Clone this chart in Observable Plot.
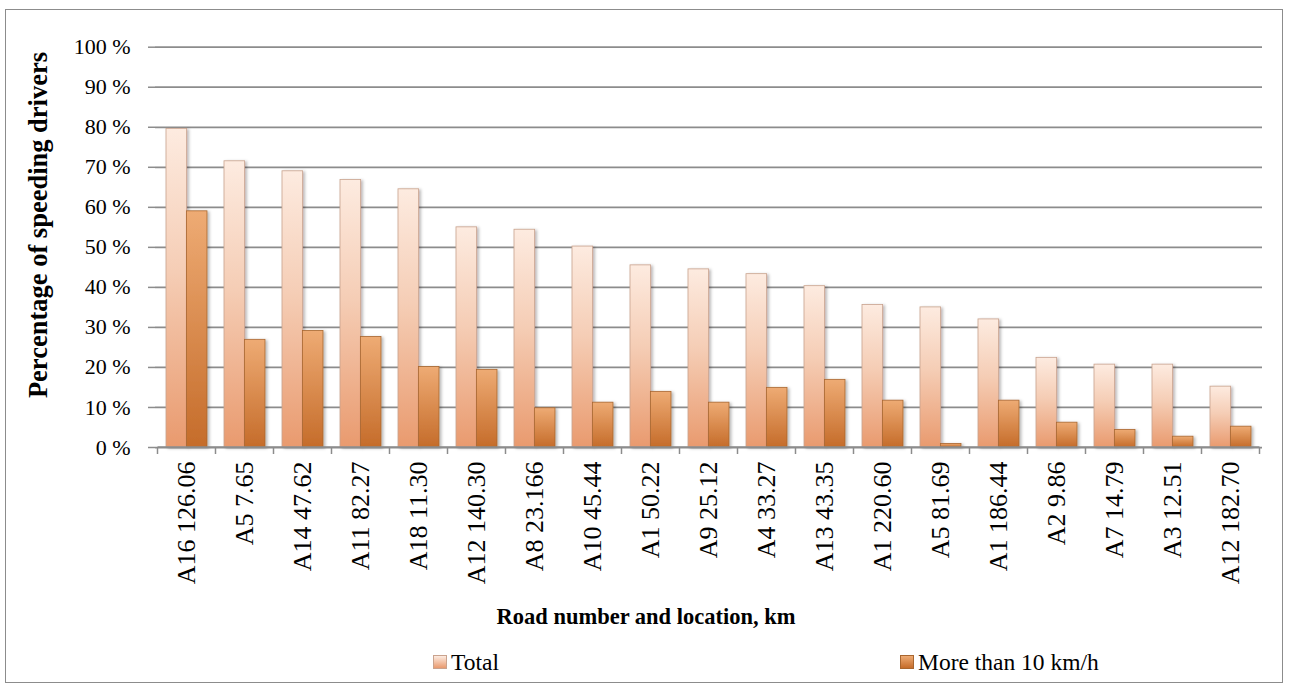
<!DOCTYPE html>
<html><head><meta charset="utf-8">
<script src="https://cdn.jsdelivr.net/npm/d3@7"></script>
<script src="https://cdn.jsdelivr.net/npm/@observablehq/plot@0.6"></script>
<style>
body{margin:0;background:#fff;font-family:"Liberation Serif","Times New Roman",serif;}
#frame{position:absolute;left:5px;top:9px;width:1278px;height:674px;border:1px solid #8c8c8c;box-sizing:border-box;}
#chart{position:absolute;left:0;top:0;}
.t{position:absolute;color:#000;white-space:nowrap;}
</style></head>
<body>
<div id="frame"></div>
<div id="chart"></div>
<div class="t" id="ytitle" style="left:38px;top:225px;transform:translate(-50%,-50%) rotate(-90deg);font-weight:bold;font-size:26.5px;">Percentage of speeding drivers</div>
<div class="t" style="left:646px;top:617px;transform:translate(-50%,-50%);font-weight:bold;font-size:22.5px;">Road number and location, km</div>
<div id="legend"></div>
<script>
const roads = ["A16 126.06","A5 7.65","A14 47.62","A11 82.27","A18 11.30","A12 140.30","A8 23.166","A10 45.44","A1 50.22","A9 25.12","A4 33.27","A13 43.35","A1 220.60","A5 81.69","A1 186.44","A2 9.86","A7 14.79","A3 12.51","A12 182.70"];
const total = [79.6,71.5,69.0,66.8,64.5,55.0,54.4,50.2,45.5,44.5,43.3,40.3,35.6,35.0,32.0,22.4,20.7,20.7,15.2];
const over10 = [59.0,26.9,29.1,27.6,20.1,19.4,9.8,11.2,13.9,11.2,14.9,16.9,11.7,0.9,11.7,6.2,4.4,2.7,5.2];
const yTicks = [0,10,20,30,40,50,60,70,80,90,100];
const seriesNames = ["Total","More than 10 km/h"];

const dataTotal = roads.map((r,i)=>({road:r, value: total[i]}));
const dataOver = roads.map((r,i)=>({road:r, value: over10[i]}));

const W = 1290, H = 600, mL = 155, mR = 28, mT = 46.7, mB = 153;
const bw = 0.7 * (W - mL - mR) / roads.length;

const bandTicks = (index, scales, values, dims) => {
  const x = scales.x, y = scales.y;
  const dom = roads;
  const step = x(dom[1]) - x(dom[0]);
  const start = x(dom[0]) - (step - x.bandwidth())/2;
  const g = d3.create("svg:g");
  for (let i = 0; i <= dom.length; i++) {
    const px = start + i*step;
    g.append("line").attr("x1",px).attr("x2",px).attr("y1",y(0)).attr("y2",y(0)+7)
      .attr("stroke","#8c8c8c").attr("stroke-width",1.5);
  }
  g.append("line").attr("x1",start).attr("x2",start+dom.length*step).attr("y1",y(0)).attr("y2",y(0))
    .attr("stroke","#8c8c8c").attr("stroke-width",1.75);
  return g.node();
};

const plot = Plot.plot({
  width: W, height: H,
  marginLeft: mL, marginRight: mR, marginTop: mT, marginBottom: mB,
  style: {fontFamily: '"Liberation Serif","Times New Roman",serif', color: "#000", background: "transparent", overflow: "visible"},
  x: {type: "band", domain: roads, paddingInner: 0.3, paddingOuter: 0.15, label: null},
  y: {domain: [0,100], label: null},
  marks: [
    Plot.ruleY(yTicks, {y: d=>d, stroke: "#8c8c8c", strokeWidth: 1.75, strokeOpacity: 1}),
    Plot.ruleX([0], {frameAnchor: "left", y1: 0, y2: 100, stroke: "#8c8c8c", strokeWidth: 1.5}),
    Plot.axisY({ticks: yTicks, tickFormat: d => d + " %", tickSize: 7, tickPadding: 18, fontSize: 22, stroke: "#8c8c8c", strokeWidth: 1.5, strokeOpacity: 1, label: null}),
    Plot.axisX({tickRotate: -90, tickSize: 0, tickPadding: 14, fontSize: 26, label: null}),
    Plot.barY(dataTotal, {x: "road", y: "value", fill: "url(#gTotal)", stroke: "#c9a38e", strokeWidth: 0.8, insetRight: bw/2}),
    Plot.barY(dataOver, {x: "road", y: "value", fill: "url(#gOver)", stroke: "#a8662f", strokeWidth: 0.8, insetLeft: bw/2}),
    bandTicks
  ]
});

// gradients and shadow
const defs = d3.create("svg:defs");
const g1 = defs.append("linearGradient").attr("id","gTotal").attr("x1",0).attr("y1",0).attr("x2",0).attr("y2",1);
g1.append("stop").attr("offset","0%").attr("stop-color","#fdebe0");
g1.append("stop").attr("offset","45%").attr("stop-color","#f5cdb5");
g1.append("stop").attr("offset","100%").attr("stop-color","#e99a6e");
const g2 = defs.append("linearGradient").attr("id","gOver").attr("x1",0).attr("y1",0).attr("x2",0).attr("y2",1);
g2.append("stop").attr("offset","0%").attr("stop-color","#eeab74");
g2.append("stop").attr("offset","100%").attr("stop-color","#c56c2a");
const f = defs.append("filter").attr("id","shadow").attr("x","-20%").attr("y","-20%").attr("width","160%").attr("height","140%");
f.append("feDropShadow").attr("dx",2).attr("dy",1).attr("stdDeviation",1.8).attr("flood-color","#000").attr("flood-opacity",0.28);
plot.insertBefore(defs.node(), plot.firstChild);
plot.querySelectorAll('g[aria-label="bar"]').forEach(g => g.setAttribute("filter","url(#shadow)"));
document.getElementById("chart").appendChild(plot);

// legend
const legend = document.getElementById("legend");
const lg = [{name: seriesNames[0], grad: "linear-gradient(#fdebe0,#e99a6e)", border:"#c9a38e", x: 433},
            {name: seriesNames[1], grad: "linear-gradient(#eeab74,#c56c2a)", border:"#a8662f", x: 900}];
lg.forEach(d => {
  const sw = document.createElement("div");
  sw.style.cssText = `position:absolute;left:${d.x}px;top:655px;width:14px;height:14px;background:${d.grad};border:1px solid ${d.border};box-sizing:border-box;`;
  legend.appendChild(sw);
  const tx = document.createElement("div");
  tx.className = "t";
  tx.style.cssText += `left:${d.x+18}px;top:648px;font-size:23.5px;line-height:28px;`;
  tx.textContent = d.name;
  legend.appendChild(tx);
});
</script>
</body></html>
